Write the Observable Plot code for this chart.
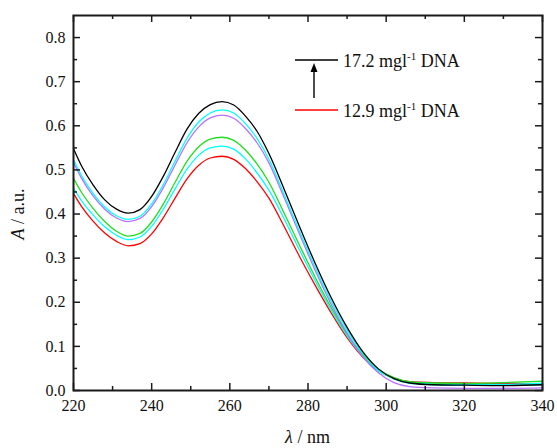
<!DOCTYPE html>
<html><head><meta charset="utf-8">
<script src="https://cdn.jsdelivr.net/npm/d3@7"></script>
<script src="https://cdn.jsdelivr.net/npm/@observablehq/plot@0.6"></script>
<style>
body{margin:0;background:#fff;}
#chart{position:relative;width:557px;height:448px;}
</style></head><body><div id="chart"></div>
<script>
const wavelength = [220,222,225,228,231,234,237,240,243,246,249,252,255,258,261,264,267,270,274,278,282,286,290,294,298,302,306,312,320,330,340];
const seriesNames = ["s6","s5","s4","s3","s2","s1"];
const seriesColors = ["#ff0000","#00ffff","#22dd22","#b870ff","#00ffff","#000000"];
const s1 = [0.548,0.510,0.466,0.432,0.411,0.402,0.410,0.440,0.486,0.540,0.592,0.628,0.648,0.655,0.647,0.622,0.587,0.537,0.454,0.368,0.285,0.209,0.143,0.088,0.049,0.027,0.017,0.013,0.012,0.011,0.013];
const s2 = [0.523,0.488,0.447,0.416,0.396,0.388,0.395,0.423,0.467,0.520,0.571,0.608,0.629,0.636,0.629,0.605,0.571,0.524,0.442,0.357,0.276,0.201,0.137,0.084,0.047,0.026,0.016,0.013,0.012,0.012,0.013];
const s3 = [0.517,0.482,0.441,0.411,0.391,0.383,0.390,0.417,0.460,0.511,0.561,0.597,0.618,0.624,0.617,0.594,0.561,0.516,0.435,0.351,0.269,0.194,0.130,0.077,0.040,0.018,0.009,0.006,0.005,0.005,0.006];
const s4 = [0.481,0.450,0.413,0.383,0.361,0.350,0.356,0.382,0.423,0.472,0.519,0.552,0.570,0.574,0.567,0.545,0.513,0.472,0.400,0.326,0.254,0.187,0.128,0.081,0.048,0.029,0.020,0.017,0.016,0.018,0.021];
const s5 = [0.459,0.431,0.398,0.371,0.352,0.342,0.348,0.372,0.411,0.457,0.501,0.533,0.550,0.554,0.547,0.525,0.493,0.454,0.387,0.315,0.246,0.181,0.124,0.078,0.045,0.027,0.018,0.015,0.014,0.014,0.016];
const s6 = [0.447,0.418,0.384,0.357,0.338,0.328,0.333,0.355,0.392,0.436,0.479,0.510,0.527,0.531,0.524,0.503,0.473,0.436,0.370,0.301,0.236,0.175,0.120,0.076,0.045,0.028,0.020,0.018,0.017,0.016,0.015];
const xMajor = [220,240,260,280,300,320,340];
const xMinor = [230,250,270,290,310,330];
const yMajor = [0,0.1,0.2,0.3,0.4,0.5,0.6,0.7,0.8];
const yMinor = [0.05,0.15,0.25,0.35,0.45,0.55,0.65,0.75];
const legendLabels = ["17.2 mgl", "12.9 mgl"];

const FONT = "Liberation Serif";
const seriesValues = {s1, s2, s3, s4, s5, s6};
const data = [];
for (const name of seriesNames) {
  seriesValues[name].forEach((v, i) => data.push({series: name, wl: wavelength[i], a: v}));
}

const W = 557, H = 448, mL = 73, mR = 15, mT = 15, mB = 58;
const fw = W - mL - mR, fh = H - mT - mB;
const tickStyle = {stroke: "#1a1a1a", strokeWidth: 1.5};
const xTicks = (vals, len) => [
  Plot.tickX(vals, {x: d => d, insetTop: fh - len, ...tickStyle}),
  Plot.tickX(vals, {x: d => d, insetBottom: fh - len, ...tickStyle})
];
const yTicks = (vals, len) => [
  Plot.tickY(vals, {y: d => d, insetRight: fw - len, ...tickStyle}),
  Plot.tickY(vals, {y: d => d, insetLeft: fw - len, ...tickStyle})
];

const plot = Plot.plot({
  width: W, height: H,
  marginLeft: mL, marginRight: mR, marginTop: mT, marginBottom: mB,
  style: {fontFamily: FONT, background: "#fff"},
  x: {domain: [220, 340]},
  y: {domain: [0, 0.85]},
  color: {domain: seriesNames, range: seriesColors},
  marks: [
    Plot.line(data, {x: "wl", y: "a", z: "series", stroke: "series", curve: "monotone-x", strokeWidth: 1.3}),
    Plot.frame({stroke: "#1a1a1a", strokeWidth: 2}),
    ...xTicks(xMajor, 7), ...xTicks(xMinor, 4),
    ...yTicks(yMajor, 7), ...yTicks(yMinor, 4),
    Plot.axisX({ticks: xMajor, tickSize: 0, tickPadding: 9, fontSize: 16, label: null, fill: "#111"}),
    Plot.axisY({ticks: yMajor, tickSize: 0, tickPadding: 8, fontSize: 16, label: null, tickFormat: d3.format(".1f"), fill: "#111"})
  ]
});
document.getElementById("chart").appendChild(plot);

const svg = d3.select(plot);
const xt = svg.append("text").attr("x", 307.5).attr("y", 443).attr("text-anchor", "middle")
  .attr("font-size", 18).attr("fill", "#111");
xt.append("tspan").attr("font-style", "italic").text("λ");
xt.append("tspan").text(" / nm");
const yt = svg.append("text").attr("transform", "translate(24,214) rotate(-90)").attr("text-anchor", "middle")
  .attr("font-size", 18).attr("fill", "#111");
yt.append("tspan").attr("font-style", "italic").text("A");
yt.append("tspan").text(" / a.u.");

const leg = svg.append("g").attr("text-anchor", "start");
[[60, "#000", legendLabels[0]], [110, "#ff0000", legendLabels[1]]].forEach(([y, c, t]) => {
  leg.append("line").attr("x1", 295).attr("x2", 338).attr("y1", y).attr("y2", y).attr("stroke", c).attr("stroke-width", 1.3);
  const tx = leg.append("text").attr("x", 343).attr("y", y + 7).attr("text-anchor", "start").attr("font-size", 18).attr("fill", "#111");
  tx.append("tspan").text(t);
  tx.append("tspan").attr("font-size", 11).attr("dy", -7).text("-1");
  tx.append("tspan").attr("dy", 7).text(" DNA");
});
leg.append("line").attr("x1", 314).attr("x2", 314).attr("y1", 98).attr("y2", 70).attr("stroke", "#000").attr("stroke-width", 1.4);
leg.append("path").attr("d", "M314,63L310.5,72L317.5,72Z").attr("fill", "#000");

svg.selectAll("text").attr("font-family", FONT).style("font-family", FONT);
</script></body></html>
